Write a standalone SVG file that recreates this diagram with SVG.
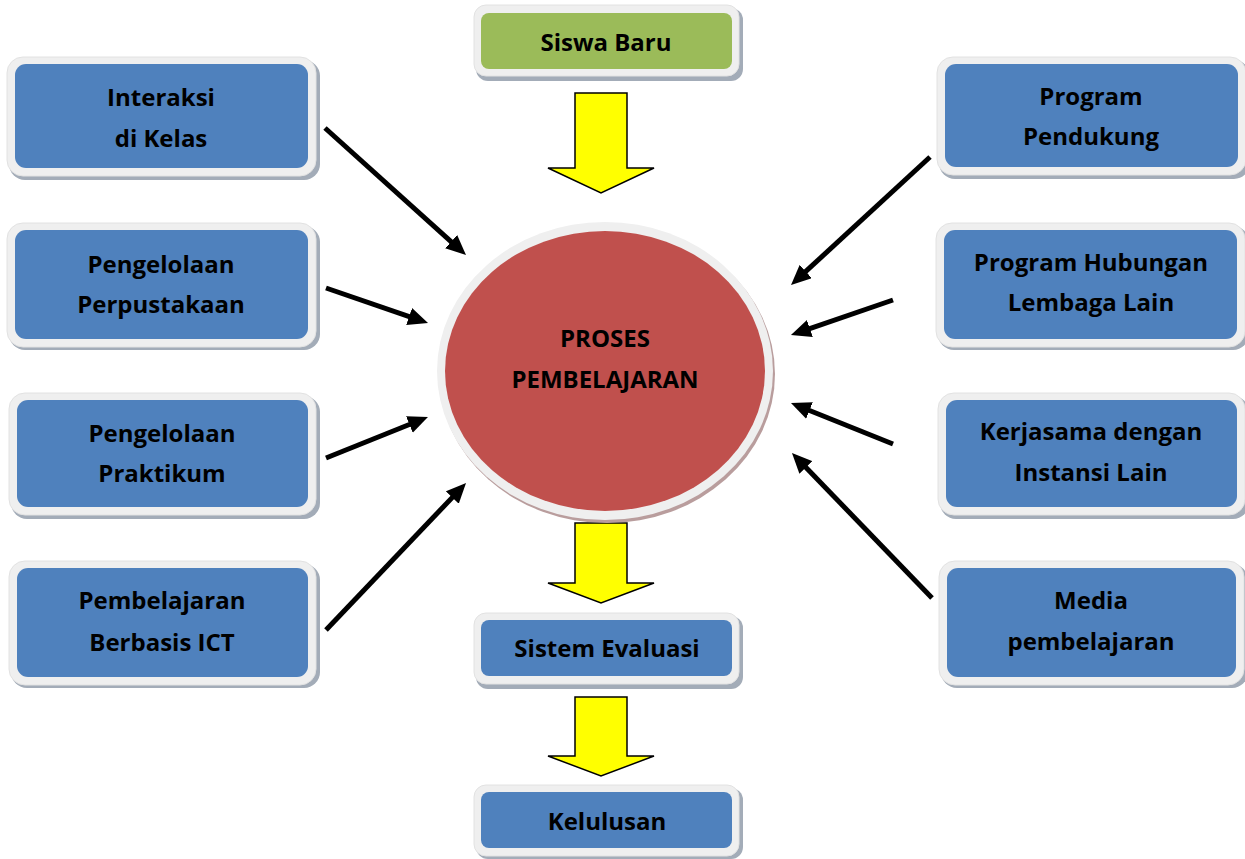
<svg xmlns="http://www.w3.org/2000/svg" width="1245" height="859" viewBox="0 0 1245 859">
<style>
.sh{fill:#a3acb8}
.ot{fill:#efefef;stroke:#e2e2e2;stroke-width:1}
.bl{fill:#4f81bd}
.gr{fill:#9bbb59}
.t{font-family:"Open Sans","Noto Sans",sans-serif;font-weight:bold;font-size:24px;fill:#000;text-anchor:middle}
.ln{stroke:#000;stroke-width:5;fill:none;marker-end:url(#ah)}
.ya{fill:#ffff00;stroke:#000;stroke-width:1.5;stroke-linejoin:miter}
</style>
<defs>
<marker id="ah" viewBox="0 0 20 18" markerUnits="userSpaceOnUse" markerWidth="20" markerHeight="18" refX="4" refY="9" orient="auto">
<path d="M0,0 L20,9 L0,18 z" fill="#000"/>
</marker>
</defs>
<rect width="1245" height="859" fill="#fff"/>

<g id="connectors">
<line class="ln" x1="325" y1="128" x2="454.1" y2="244.3"/>
<line class="ln" x1="326" y1="288" x2="412.9" y2="317.8"/>
<line class="ln" x1="326" y1="458" x2="413.1" y2="423.0"/>
<line class="ln" x1="326" y1="630" x2="455.0" y2="494.6"/>
<line class="ln" x1="930" y1="157" x2="802.8" y2="274.2"/>
<line class="ln" x1="893" y1="300" x2="806.1" y2="329.8"/>
<line class="ln" x1="893" y1="444" x2="805.8" y2="409.0"/>
<line class="ln" x1="932" y1="598" x2="803.1" y2="464.5"/>
<polygon class="ya" points="575,93 627,93 627,168 654,168 601,193 548,168 575,168"/>
<polygon class="ya" points="575,523 627,523 627,583 654,583 601,603 548,583 575,583"/>
<polygon class="ya" points="575,697 627,697 627,756 654,756 601,776 548,756 575,756"/>
</g>

<g id="proses">
<ellipse cx="607" cy="374" rx="168" ry="149" fill="#b99d9d"/>
<ellipse cx="605" cy="371" rx="168" ry="149" fill="#efefef"/>
<ellipse cx="605" cy="371" rx="160" ry="140" fill="#c0504d"/>
<text class="t" x="605" y="347">PROSES</text>
<text class="t" x="605" y="388">PEMBELAJARAN</text>
</g>

<g id="siswa-baru">
<rect class="sh" x="476" y="8" width="267" height="73" rx="12"/>
<rect class="ot" x="474" y="5" width="265" height="71" rx="12"/>
<rect class="gr" x="481" y="13" width="251" height="56" rx="8"/>
<text class="t" x="606" y="51">Siswa Baru</text>
</g>

<g id="sistem-evaluasi">
<rect class="sh" x="476" y="616" width="267" height="73" rx="12"/>
<rect class="ot" x="474" y="613" width="265" height="71" rx="12"/>
<rect class="bl" x="481" y="620" width="251" height="56" rx="8"/>
<text class="t" x="607" y="657">Sistem Evaluasi</text>
</g>

<g id="kelulusan">
<rect class="sh" x="476" y="788" width="267" height="71" rx="12"/>
<rect class="ot" x="474" y="785" width="265" height="71" rx="12"/>
<rect class="bl" x="481" y="792" width="251" height="56" rx="8"/>
<text class="t" x="607" y="830">Kelulusan</text>
</g>

<g id="interaksi">
<rect class="sh" x="9" y="60" width="311" height="120" rx="16"/>
<rect class="ot" x="7" y="57" width="309" height="119" rx="16"/>
<rect class="bl" x="15" y="64" width="293" height="104" rx="11"/>
<text class="t" x="161" y="106">Interaksi</text>
<text class="t" x="161" y="147">di Kelas</text>
</g>

<g id="perpustakaan">
<rect class="sh" x="9" y="226" width="311" height="124" rx="16"/>
<rect class="ot" x="7" y="223" width="309" height="124" rx="16"/>
<rect class="bl" x="15" y="230" width="293" height="109" rx="11"/>
<text class="t" x="161" y="273">Pengelolaan</text>
<text class="t" x="161" y="313">Perpustakaan</text>
</g>

<g id="praktikum">
<rect class="sh" x="11" y="396" width="309" height="123" rx="16"/>
<rect class="ot" x="9" y="393" width="307" height="122" rx="16"/>
<rect class="bl" x="17" y="400" width="291" height="107" rx="11"/>
<text class="t" x="162" y="442">Pengelolaan</text>
<text class="t" x="162" y="482">Praktikum</text>
</g>

<g id="ict">
<rect class="sh" x="11" y="564" width="309" height="124" rx="16"/>
<rect class="ot" x="9" y="561" width="307" height="124" rx="16"/>
<rect class="bl" x="17" y="568" width="291" height="109" rx="11"/>
<text class="t" x="162" y="609">Pembelajaran</text>
<text class="t" x="162" y="651">Berbasis ICT</text>
</g>

<g id="program-pendukung">
<rect class="sh" x="939" y="60" width="311" height="119" rx="16"/>
<rect class="ot" x="937" y="57" width="309" height="118" rx="16"/>
<rect class="bl" x="945" y="64" width="293" height="103" rx="11"/>
<text class="t" x="1091" y="105">Program</text>
<text class="t" x="1091" y="145">Pendukung</text>
</g>

<g id="hubungan-lembaga">
<rect class="sh" x="938" y="226" width="311" height="124" rx="16"/>
<rect class="ot" x="936" y="223" width="309" height="124" rx="16"/>
<rect class="bl" x="944" y="230" width="293" height="109" rx="11"/>
<text class="t" x="1091" y="271">Program Hubungan</text>
<text class="t" x="1091" y="311">Lembaga Lain</text>
</g>

<g id="kerjasama">
<rect class="sh" x="940" y="396" width="309" height="123" rx="16"/>
<rect class="ot" x="938" y="393" width="307" height="122" rx="16"/>
<rect class="bl" x="946" y="400" width="291" height="107" rx="11"/>
<text class="t" x="1091" y="440">Kerjasama dengan</text>
<text class="t" x="1091" y="481">Instansi Lain</text>
</g>

<g id="media">
<rect class="sh" x="941" y="564" width="307" height="124" rx="16"/>
<rect class="ot" x="939" y="561" width="305" height="124" rx="16"/>
<rect class="bl" x="947" y="568" width="289" height="109" rx="11"/>
<text class="t" x="1091" y="609">Media</text>
<text class="t" x="1091" y="650">pembelajaran</text>
</g>
</svg>
